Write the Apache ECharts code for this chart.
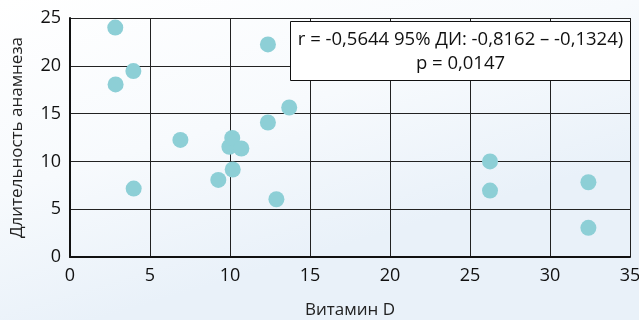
<!DOCTYPE html>
<html><head><meta charset="utf-8">
<script src="https://cdn.jsdelivr.net/npm/echarts@6/dist/echarts.min.js"></script>
<style>html,body{margin:0;padding:0;}#c{width:639px;height:320px;}</style>
</head><body><div id="c"></div>
<script>
const vitaminD = [2.83, 2.85, 3.96, 3.98, 6.9, 9.27, 9.96, 10.14, 10.17, 10.71, 12.37, 12.37, 12.9, 13.7, 26.25, 26.25, 32.4, 32.4];
const duration = [24.0, 18.05, 19.45, 7.16, 12.25, 8.06, 11.52, 12.46, 9.15, 11.35, 22.24, 14.07, 6.04, 15.64, 10.0, 6.95, 7.82, 3.05];
const xTicks = [0, 5, 10, 15, 20, 25, 30, 35];
const yTicks = [0, 5, 10, 15, 20, 25];
const xName = 'Витамин D';
const yName = 'Длительность анамнеза';
const noteLines = ['r = -0,5644 95% ДИ: -0,8162 – -0,1324)', 'p = 0,0147'];

const font = 'Open Sans';
const chart = echarts.init(document.getElementById('c'));
chart.setOption({
  animation: false,
  backgroundColor: {
    type: 'linear', x: 0, y: 0, x2: 0.15, y2: 1,
    colorStops: [{offset: 0, color: '#ffffff'}, {offset: 0.55, color: '#f7fafd'}, {offset: 1, color: '#e9f1f9'}]
  },
  grid: {left: 70, right: 9, top: 18, bottom: 63, outerBoundsMode: 'none', containLabel: false},
  xAxis: {
    type: 'value', min: xTicks[0], max: xTicks[xTicks.length - 1], interval: 5,
    name: xName, nameLocation: 'middle', nameGap: 45,
    nameTextStyle: {fontFamily: font, fontSize: 17, color: '#222'},
    axisLine: {show: true, onZero: false, lineStyle: {color: '#111', width: 2}},
    axisTick: {show: false},
    axisLabel: {fontFamily: font, fontSize: 18, color: '#111', margin: 10},
    splitLine: {show: true, lineStyle: {color: '#222', width: 1}}
  },
  yAxis: {
    type: 'value', min: yTicks[0], max: yTicks[yTicks.length - 1], interval: 5,
    name: yName, nameLocation: 'middle', nameGap: 44,
    nameTextStyle: {fontFamily: font, fontSize: 17, color: '#222'},
    axisLine: {show: true, lineStyle: {color: '#111', width: 2}},
    axisTick: {show: false},
    axisLabel: {fontFamily: font, fontSize: 18, color: '#111', margin: 9},
    splitLine: {show: true, lineStyle: {color: '#222', width: 1}}
  },
  series: [{
    type: 'scatter',
    data: vitaminD.map((v, i) => [v, duration[i]]),
    symbolSize: 16,
    itemStyle: {color: '#8dcfd6', opacity: 1}
  }],
  graphic: [{
    type: 'group', left: 290, top: 21, z: 100,
    children: [
      {type: 'rect', z: 100, shape: {x: 0, y: 0, width: 340, height: 59},
       style: {fill: '#ffffff', stroke: '#111', lineWidth: 1}},
      {type: 'text', z: 101, x: 170, y: 18,
       style: {text: noteLines[0], fontFamily: font, fontSize: 18.5, fill: '#111', align: 'center', verticalAlign: 'middle'}},
      {type: 'text', z: 101, x: 170, y: 42,
       style: {text: noteLines[1], fontFamily: font, fontSize: 18.5, fill: '#111', align: 'center', verticalAlign: 'middle'}}
    ]
  }]
});
</script></body></html>
